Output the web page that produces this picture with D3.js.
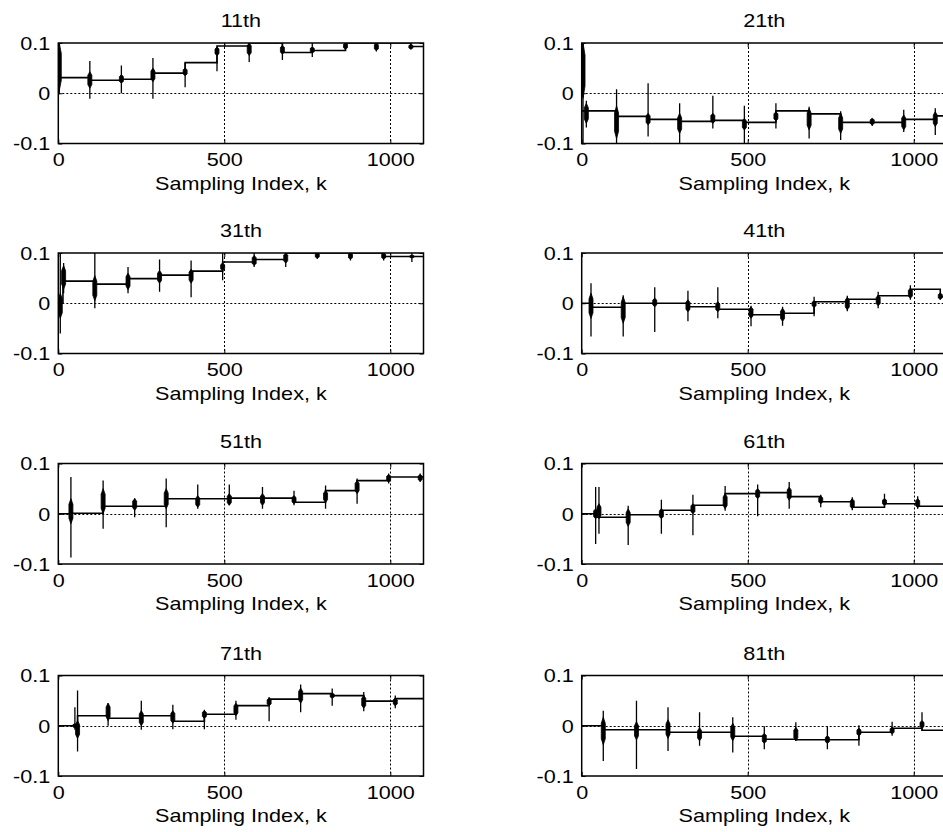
<!DOCTYPE html>
<html>
<head>
<meta charset="utf-8">
<script src="https://cdn.jsdelivr.net/npm/d3@7"></script>
<style>
  html, body { margin: 0; padding: 0; background: #fff; }
  svg { display: block; }
</style>
</head>
<body>
<svg id="chart" width="943" height="832"></svg>
<script>
// ---------------- DATA ----------------
const titles = ["11th", "21th", "31th", "41th", "51th", "61th", "71th", "81th"];
const kDomain = [0, 1100];
const yDomain = [-0.1, 0.1];
const xTickValues = [0, 500, 1000];
const yTickValues = [-0.1, 0, 0.1];
const gridK = [500, 1000];
const gridY = [0];

// step levels: [sampling index where level starts, level]
const steps11 = [[0, 0.031], [95, 0.026], [190, 0.028], [285, 0.040], [382, 0.061], [478, 0.094], [575, 0.100], [675, 0.081], [765, 0.085], [865, 0.100], [958, 0.100], [1062, 0.093]];
const steps21 = [[0, -0.035], [105, -0.046], [200, -0.052], [295, -0.056], [395, -0.054], [490, -0.058], [585, -0.035], [685, -0.041], [780, -0.058], [875, -0.058], [970, -0.052], [1065, -0.045]];
const steps31 = [[0, 0.0], [14, 0.044], [110, 0.038], [210, 0.049], [305, 0.056], [400, 0.064], [495, 0.082], [590, 0.087], [685, 0.100], [780, 0.100], [880, 0.100], [980, 0.093], [1065, 0.093]];
const steps41 = [[0, 0.0], [28, -0.008], [125, 0.0], [220, 0.0], [320, -0.007], [410, -0.012], [510, -0.023], [605, -0.020], [700, 0.003], [800, 0.008], [893, 0.015], [990, 0.028], [1080, 0.013]];
const steps51 = [[0, 0.0], [38, 0.001], [135, 0.015], [230, 0.015], [325, 0.030], [420, 0.030], [515, 0.031], [615, 0.031], [710, 0.023], [805, 0.046], [900, 0.066], [995, 0.073], [1090, 0.073]];
const steps61 = [[0, 0.0], [48, -0.007], [140, -0.002], [240, 0.007], [335, 0.017], [432, 0.040], [530, 0.042], [625, 0.034], [720, 0.024], [815, 0.013], [912, 0.020], [1012, 0.015]];
const steps71 = [[0, 0.0], [58, 0.020], [150, 0.015], [250, 0.020], [345, 0.009], [440, 0.023], [535, 0.040], [635, 0.053], [730, 0.064], [825, 0.060], [920, 0.049], [1015, 0.054]];
const steps81 = [[0, 0.0], [68, -0.008], [165, -0.008], [260, -0.013], [355, -0.013], [455, -0.021], [550, -0.027], [645, -0.028], [740, -0.028], [835, -0.013], [935, -0.005], [1025, -0.009]];

// transient bursts: [k, spike min, spike max, dense min, dense max]
const bursts11 = [[3, -0.002, 0.100, 0.005, 0.100], [95, -0.011, 0.064, 0.010, 0.043], [190, 0.000, 0.055, 0.020, 0.037], [285, -0.011, 0.070, 0.023, 0.050], [382, 0.012, 0.060, 0.035, 0.050], [478, 0.044, 0.092, 0.075, 0.092], [575, 0.062, 0.100, 0.075, 0.100], [675, 0.066, 0.100, 0.078, 0.095], [765, 0.072, 0.100, 0.080, 0.092], [865, 0.085, 0.100, 0.088, 0.100], [958, 0.083, 0.100, 0.085, 0.100], [1062, 0.087, 0.100, 0.088, 0.097]];
const bursts21 = [[4, -0.100, 0.100, -0.010, 0.100], [14, -0.068, -0.015, -0.060, -0.020], [105, -0.100, 0.008, -0.090, -0.025], [200, -0.086, 0.020, -0.063, -0.040], [295, -0.100, -0.020, -0.080, -0.040], [395, -0.070, -0.005, -0.060, -0.040], [490, -0.100, -0.025, -0.073, -0.050], [585, -0.070, -0.020, -0.055, -0.037], [685, -0.090, -0.027, -0.073, -0.030], [780, -0.093, -0.036, -0.080, -0.040], [875, -0.065, -0.050, -0.063, -0.050], [970, -0.077, -0.033, -0.073, -0.043], [1065, -0.083, -0.030, -0.066, -0.037]];
const bursts31 = [[6, -0.060, 0.100, -0.030, 0.020], [16, 0.020, 0.080, 0.028, 0.075], [110, -0.010, 0.100, 0.005, 0.055], [210, 0.020, 0.072, 0.027, 0.060], [305, 0.023, 0.087, 0.040, 0.065], [400, 0.012, 0.085, 0.040, 0.068], [495, 0.046, 0.100, 0.065, 0.080], [590, 0.072, 0.100, 0.075, 0.095], [685, 0.072, 0.100, 0.080, 0.100], [780, 0.088, 0.100, 0.090, 0.100], [880, 0.085, 0.100, 0.088, 0.100], [980, 0.085, 0.100, 0.088, 0.100], [1065, 0.082, 0.100, 0.090, 0.096]];
const bursts41 = [[28, -0.066, 0.040, -0.030, 0.020], [125, -0.066, 0.016, -0.040, 0.013], [220, -0.057, 0.032, -0.007, 0.010], [320, -0.036, 0.025, -0.017, 0.007], [410, -0.030, 0.032, -0.017, 0.003], [510, -0.046, -0.005, -0.030, -0.007], [605, -0.045, -0.007, -0.036, -0.010], [700, -0.026, 0.013, -0.008, 0.005], [800, -0.016, 0.015, -0.013, 0.012], [893, -0.010, 0.023, -0.005, 0.016], [990, 0.007, 0.036, 0.010, 0.030], [1080, 0.007, 0.020, 0.008, 0.020]];
const bursts51 = [[38, -0.087, 0.073, -0.020, 0.030], [135, -0.030, 0.066, 0.000, 0.050], [230, -0.007, 0.031, 0.007, 0.030], [325, -0.027, 0.070, 0.010, 0.050], [420, 0.010, 0.058, 0.013, 0.036], [515, 0.017, 0.058, 0.017, 0.040], [615, 0.010, 0.053, 0.017, 0.040], [710, 0.017, 0.046, 0.020, 0.036], [805, 0.010, 0.056, 0.023, 0.046], [900, 0.020, 0.070, 0.040, 0.066], [995, 0.060, 0.080, 0.063, 0.078], [1090, 0.063, 0.080, 0.065, 0.078]];
const bursts61 = [[42, -0.060, 0.053, -0.010, 0.010], [52, -0.040, 0.053, -0.010, 0.020], [140, -0.062, 0.016, -0.025, 0.010], [240, -0.040, 0.028, -0.010, 0.010], [335, -0.043, 0.038, 0.000, 0.020], [432, 0.006, 0.055, 0.010, 0.040], [530, -0.005, 0.058, 0.030, 0.050], [625, 0.010, 0.063, 0.027, 0.053], [720, 0.013, 0.038, 0.020, 0.035], [815, 0.007, 0.033, 0.010, 0.030], [912, 0.015, 0.040, 0.017, 0.030], [1012, 0.010, 0.035, 0.012, 0.030]];
const bursts71 = [[50, -0.008, 0.037, -0.004, 0.004], [58, -0.051, 0.070, -0.025, 0.010], [150, 0.000, 0.045, 0.010, 0.045], [250, -0.008, 0.050, 0.000, 0.030], [345, -0.007, 0.042, 0.005, 0.030], [440, -0.007, 0.032, 0.015, 0.030], [535, 0.012, 0.050, 0.020, 0.045], [635, 0.009, 0.057, 0.040, 0.055], [730, 0.027, 0.082, 0.045, 0.075], [825, 0.040, 0.074, 0.055, 0.065], [920, 0.029, 0.067, 0.035, 0.060], [1015, 0.035, 0.060, 0.040, 0.055]];
const bursts81 = [[65, -0.070, 0.030, -0.038, 0.017], [165, -0.086, 0.050, -0.028, 0.008], [260, -0.050, 0.037, -0.025, 0.012], [355, -0.040, 0.027, -0.030, -0.004], [455, -0.053, 0.017, -0.030, 0.005], [550, -0.047, -0.001, -0.035, -0.015], [645, -0.030, 0.007, -0.030, -0.003], [740, -0.047, -0.001, -0.035, -0.020], [835, -0.040, 0.001, -0.020, -0.005], [935, -0.020, 0.008, -0.016, -0.003], [1025, -0.010, 0.027, -0.005, 0.010]];

const allSteps = [steps11, steps21, steps31, steps41, steps51, steps61, steps71, steps81];
const allBursts = [bursts11, bursts21, bursts31, bursts41, bursts51, bursts61, bursts71, bursts81];

// ---------------- LAYOUT ----------------
const colLeft = [58.3, 581.7];
const plotW = 365.2;
const rowTop = [43, 253, 463.5, 675.5];
const plotH = 100.5;
const FONT = "'Liberation Sans', Arial, Helvetica, sans-serif";
const FS = 18;
const SX = 1.2; // horizontal stretch of the text
const burstHalfW = 6; // in sampling-index units

const svg = d3.select("#chart");
svg.append("rect").attr("width", 943).attr("height", 832).attr("fill", "#fff");

const fmtY = d => String(d);

titles.forEach((title, i) => {
  const col = i % 2, row = Math.floor(i / 2);
  const x0 = colLeft[col], y0 = rowTop[row];
  const x = d3.scaleLinear().domain(kDomain).range([x0, x0 + plotW]);
  const y = d3.scaleLinear().domain(yDomain).range([y0 + plotH, y0]);
  const g = svg.append("g");

  const clipId = "clip" + i;
  g.append("clipPath").attr("id", clipId)
    .append("rect").attr("x", x0).attr("y", y0).attr("width", plotW).attr("height", plotH);

  // grid
  const grid = g.append("g").attr("stroke", "#000").attr("stroke-width", 1).attr("stroke-dasharray", "2,2");
  grid.selectAll("line.gx").data(gridK).join("line").attr("class", "gx")
    .attr("x1", d => Math.round(x(d)) + 0.5).attr("x2", d => Math.round(x(d)) + 0.5)
    .attr("y1", y0).attr("y2", y0 + plotH);
  grid.selectAll("line.gy").data(gridY).join("line").attr("class", "gy")
    .attr("x1", x0).attr("x2", x0 + plotW)
    .attr("y1", d => Math.round(y(d)) + 0.5).attr("y2", d => Math.round(y(d)) + 0.5);

  const data = g.append("g").attr("clip-path", `url(#${clipId})`);

  // step line
  const st = allSteps[i];
  const pts = st.concat([[kDomain[1], st[st.length - 1][1]]]);
  const line = d3.line().x(d => x(d[0])).y(d => y(d[1])).curve(d3.curveStepAfter);
  data.append("path").attr("d", line(pts)).attr("fill", "none")
    .attr("stroke", "#000").attr("stroke-width", 1.6);

  // bursts
  const bs = allBursts[i];
  data.selectAll("line.spike").data(bs).join("line").attr("class", "spike")
    .attr("x1", d => x(d[0])).attr("x2", d => x(d[0]))
    .attr("y1", d => y(d[1])).attr("y2", d => y(d[2]))
    .attr("stroke", "#000").attr("stroke-width", 1.3);
  const blobLine = d3.line().x(p => p[0]).y(p => p[1]).curve(d3.curveLinearClosed);
  data.selectAll("path.blob").data(bs).join("path").attr("class", "blob")
    .attr("d", d => {
      const xl = x(d[0] - burstHalfW), xr = x(d[0] + burstHalfW), xc = x(d[0]);
      const yl = y(d[3]), yh = y(d[4]);
      const dy = (yl - yh) * 0.22;
      return blobLine([[xl, yl - dy], [xl, yh + dy], [xc, yh], [xr, yh + dy], [xr, yl - dy], [xc, yl]]);
    })
    .attr("fill", "#000").attr("stroke", "#000").attr("stroke-width", 0.8);

  // axes (ticks inside, MATLAB style)
  const styleText = (sel) => sel.selectAll("text")
    .attr("font-family", FONT).attr("font-size", FS).attr("fill", "#000");

  const ax = g.append("g").attr("transform", `translate(0,${y0 + plotH})`)
    .call(d3.axisBottom(x).tickValues(xTickValues).tickFormat(d => String(d))
      .tickSizeInner(-4).tickSizeOuter(0).tickPadding(10));
  ax.select(".domain").remove();
  ax.selectAll("line").attr("stroke", "#000");
  styleText(ax);
  ax.selectAll("text").attr("transform", `scale(${SX},1)`).attr("dy", "0.71em");

  const ay = g.append("g").attr("transform", `translate(${x0},0)`)
    .call(d3.axisLeft(y).tickValues(yTickValues).tickFormat(fmtY)
      .tickSizeInner(-4).tickSizeOuter(0).tickPadding(8 / SX));
  ay.select(".domain").remove();
  ay.selectAll("line").attr("stroke", "#000");
  styleText(ay);
  ay.selectAll("text").attr("transform", `scale(${SX},1)`).attr("dy", "0.36em");

  const at = g.append("g").attr("transform", `translate(0,${y0})`)
    .call(d3.axisTop(x).tickValues(xTickValues).tickFormat("").tickSizeInner(-4).tickSizeOuter(0));
  at.select(".domain").remove();
  at.selectAll("line").attr("stroke", "#000");

  const ar = g.append("g").attr("transform", `translate(${x0 + plotW},0)`)
    .call(d3.axisRight(y).tickValues(yTickValues).tickFormat("").tickSizeInner(-4).tickSizeOuter(0));
  ar.select(".domain").remove();
  ar.selectAll("line").attr("stroke", "#000");

  // box
  g.append("rect").attr("x", x0).attr("y", y0).attr("width", plotW).attr("height", plotH)
    .attr("fill", "none").attr("stroke", "#000").attr("stroke-width", 1.5);

  // title
  g.append("text")
    .attr("transform", `translate(${x0 + plotW / 2},${y0 - 16}) scale(${SX},1)`)
    .attr("text-anchor", "middle").attr("font-family", FONT).attr("font-size", FS)
    .attr("fill", "#000").text(title);

  // x label
  g.append("text")
    .attr("transform", `translate(${x0 + plotW / 2},${y0 + plotH + 46}) scale(${SX},1)`)
    .attr("text-anchor", "middle").attr("font-family", FONT).attr("font-size", FS)
    .attr("fill", "#000").text("Sampling Index, k");
});
</script>
</body>
</html>
